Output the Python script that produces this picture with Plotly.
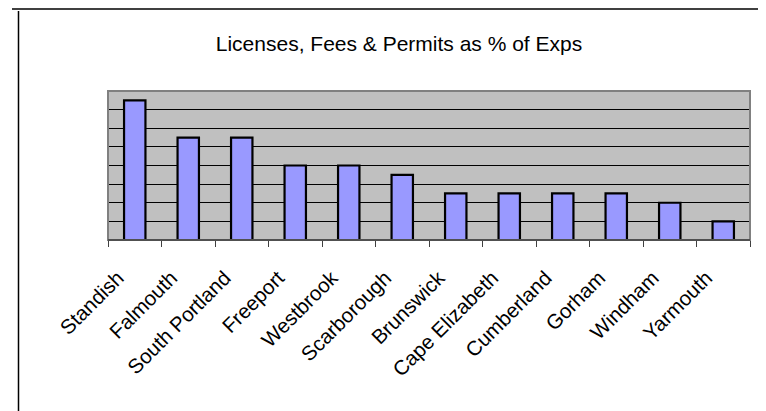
import plotly.graph_objects as go

towns = ["Standish", "Falmouth", "South Portland", "Freeport", "Westbrook",
         "Scarborough", "Brunswick", "Cape Elizabeth", "Cumberland", "Gorham",
         "Windham", "Yarmouth"]
pct_of_exps = [0.75, 0.55, 0.55, 0.40, 0.40, 0.35, 0.25, 0.25, 0.25, 0.25, 0.20, 0.10]

# page is rendered with the browser's default 8px body margin
OFF = 8
PAGE_W, PAGE_H = 766, 411
W, H = PAGE_W - OFF, PAGE_H - OFF
# plot area in page pixels: x 108..750, y 91..240
ML, MR, MT, MB = 108 - OFF, PAGE_W - 750, 91 - OFF, PAGE_H - 240
PW, PH = W - ML - MR, H - MT - MB

def px(x):
    return (x - OFF - ML) / PW

def py(y):
    return (H - MB - (y - OFF)) / PH

fig = go.Figure()
fig.add_trace(go.Bar(
    x=towns, y=pct_of_exps, width=0.4,
    marker=dict(color="#9999FF", line=dict(color="#000000", width=2.2)),
))

shapes = [
    dict(type="rect", xref="paper", yref="paper", x0=0, y0=0, x1=1, y1=1,
         line=dict(color="#808080", width=2), layer="above"),
    dict(type="line", xref="paper", yref="paper", x0=0, y0=0, x1=1, y1=0,
         line=dict(color="#404040", width=1.5), layer="above"),
    dict(type="line", xref="paper", yref="paper", x0=px(12), y0=py(9), x1=px(766), y1=py(9),
         line=dict(color="#404040", width=2)),
    dict(type="line", xref="paper", yref="paper", x0=px(18.5), y0=py(11), x1=px(18.5), y1=py(411),
         line=dict(color="#000000", width=1.5)),
]

fig.update_layout(
    width=W, height=H,
    margin=dict(l=ML, r=MR, t=MT, b=MB, pad=0),
    paper_bgcolor="#FFFFFF",
    plot_bgcolor="#C0C0C0",
    showlegend=False,
    font=dict(family="Liberation Sans, Arial, sans-serif", color="#000000"),
    title=dict(text="Licenses, Fees & Permits as % of Exps",
               x=(399 - OFF) / W, xanchor="center", xref="container",
               y=1 - (44 - OFF) / H, yanchor="middle", yref="container",
               font=dict(size=21, color="#000000")),
    xaxis=dict(
        type="category", tickangle=-45, tickson="boundaries",
        ticks="outside", ticklen=6, tickcolor="#404040", tickwidth=1,
        showgrid=False, showline=False, zeroline=False,
        tickfont=dict(size=20.5, color="#000000"),
        ticklabelshift=-17, ticklabelstandoff=21,
    ),
    yaxis=dict(
        range=[0, 0.8], dtick=0.1, showticklabels=False,
        showgrid=True, gridcolor="#000000", gridwidth=1,
        zeroline=False, showline=False, ticks="",
    ),
    shapes=shapes,
)

fig.write_html("out.html")
